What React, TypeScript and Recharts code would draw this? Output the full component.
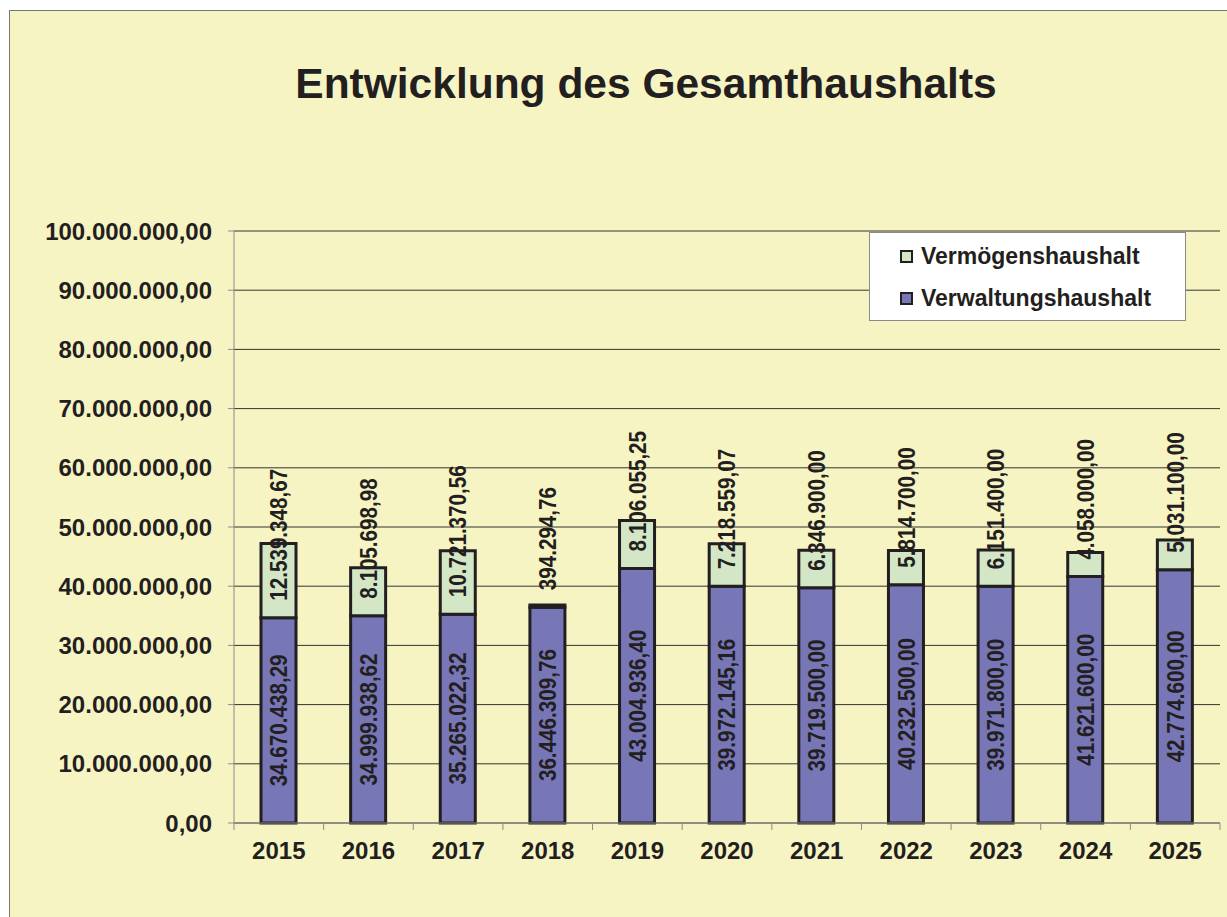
import { Bar, BarChart, CartesianGrid, LabelList, XAxis, YAxis } from 'recharts';

const years = ['2015', '2016', '2017', '2018', '2019', '2020', '2021', '2022', '2023', '2024', '2025'];
const verwaltung = [
  34670438.29, 34999938.62, 35265022.32, 36446309.76, 43004936.4, 39972145.16, 39719500.0, 40232500.0,
  39971800.0, 41621600.0, 42774600.0,
];
const vermoegen = [
  12539348.67, 8105698.98, 10721370.56, 394294.76, 8106055.25, 7218559.07, 6346900.0, 5814700.0, 6151400.0,
  4058000.0, 5031100.0,
];
const yTicks = [0, 10000000, 20000000, 30000000, 40000000, 50000000, 60000000, 70000000, 80000000, 90000000, 100000000];

const series = [
  { key: 'vermoegen', name: 'Vermögenshaushalt', color: '#D3E7C7' },
  { key: 'verwaltung', name: 'Verwaltungshaushalt', color: '#7777B8' },
];

const data = years.map((year, i) => ({ year, verwaltung: verwaltung[i], vermoegen: vermoegen[i] }));

const FONT = '"Liberation Sans", Arial, Helvetica, sans-serif';
const INK = '#231F20';
const AXIS = '#8A8A8A';
const BG = '#F7F4C4';
const BAND = 986 / years.length;

function fmt(v: number) {
  const [i, d] = v.toFixed(2).split('.');
  return i.replace(/\B(?=(\d{3})+(?!\d))/g, '.') + ',' + d;
}

function box(p: any) {
  const vb = p.viewBox && p.viewBox.width !== undefined ? p.viewBox : p;
  const x = Number(vb.x);
  const y = Number(vb.y);
  const w = Number(vb.width);
  const h = Number(vb.height);
  return { cx: x + w / 2, top: Math.min(y, y + h), bottom: Math.max(y, y + h) };
}

// vertical bar label, glyphs a bit narrower like the original
function VLabel({ cx, cy, anchor, value }: { cx: number; cy: number; anchor: string; value: number }) {
  return (
    <text
      x={0}
      y={0}
      dy="0.36em"
      transform={`translate(${cx}, ${cy}) rotate(-90) scale(0.86, 1)`}
      textAnchor={anchor}
      fontFamily={FONT}
      fontWeight="bold"
      fontSize={24}
      fill={INK}
    >
      {fmt(value)}
    </text>
  );
}

function CenterLabel(p: any) {
  const { cx, top, bottom } = box(p);
  return <VLabel cx={cx} cy={(top + bottom) / 2} anchor="middle" value={Number(p.value)} />;
}

function BaseLabel(p: any) {
  const { cx, bottom } = box(p);
  return <VLabel cx={cx} cy={bottom - 17} anchor="start" value={Number(p.value)} />;
}

function YearTick(p: any) {
  const { x, y, payload, index } = p;
  const axisY = y - 19;
  const last = index === years.length - 1;
  return (
    <g>
      <line x1={x - BAND / 2} x2={x - BAND / 2} y1={axisY} y2={axisY + 7} stroke={AXIS} />
      {last && <line x1={x + BAND / 2} x2={x + BAND / 2} y1={axisY} y2={axisY + 7} stroke={AXIS} />}
      <text x={x} y={y} dy="0.71em" textAnchor="middle" fontFamily={FONT} fontWeight="bold" fontSize={24} fill={INK}>
        {payload.value}
      </text>
    </g>
  );
}

function LegendBox() {
  return (
    <div
      style={{
        position: 'absolute',
        left: 869,
        top: 232,
        width: 317,
        height: 89,
        boxSizing: 'border-box',
        background: '#fff',
        border: '1px solid #8A8A8A',
        paddingTop: 5,
        fontFamily: FONT,
        fontWeight: 'bold',
        fontSize: 23,
        color: INK,
      }}
    >
      {series.map((s) => (
        <div key={s.key} style={{ display: 'flex', alignItems: 'center', height: 36, marginBottom: 6, paddingLeft: 30 }}>
          <span
            style={{
              display: 'inline-block',
              width: 9,
              height: 9,
              background: s.color,
              border: `2px solid ${INK}`,
              marginRight: 8,
            }}
          />
          {s.name}
        </div>
      ))}
    </div>
  );
}

export default function App() {
  return (
    <div style={{ position: 'absolute', left: 0, top: 0, width: 1227, height: 917, background: '#fff', overflow: 'hidden' }}>
      <div
        style={{
          position: 'absolute',
          left: 9,
          top: 10,
          width: 1240,
          height: 930,
          background: BG,
          border: '1px solid #777',
        }}
      />
      <div
        style={{
          position: 'absolute',
          left: 146,
          top: 60,
          width: 1000,
          textAlign: 'center',
          fontFamily: FONT,
          fontWeight: 'bold',
          fontSize: 42.5,
          lineHeight: 'normal',
          color: INK,
        }}
      >
        Entwicklung des Gesamthaushalts
      </div>
      <div style={{ position: 'absolute', left: 0, top: 0 }}>
        <BarChart width={1227} height={917} data={data} margin={{ top: 231, right: 7, bottom: 34, left: 8 }}>
          <CartesianGrid yAxisId="l" vertical={false} stroke="#333" />
          <XAxis
            dataKey="year"
            height={60}
            axisLine={{ stroke: AXIS }}
            tickLine={{ stroke: 'none' }}
            tickSize={8}
            tickMargin={11}
            tick={<YearTick />}
            interval={0}
          />
          <YAxis
            yAxisId="l"
            width={226}
            domain={[0, 100000000]}
            ticks={yTicks}
            interval={0}
            axisLine={{ stroke: AXIS }}
            tickLine={{ stroke: AXIS }}
            tickSize={6}
            tickMargin={16}
            tickFormatter={(v: number) => fmt(v)}
            tick={{ fontFamily: FONT, fontWeight: 'bold', fontSize: 24, fill: INK }}
          />
          <YAxis
            yAxisId="r"
            orientation="right"
            width={0}
            domain={[0, 100000000]}
            tick={false}
            tickLine={false}
            axisLine={{ stroke: AXIS }}
          />
          <Bar
            yAxisId="l"
            dataKey="verwaltung"
            name="Verwaltungshaushalt"
            stackId="a"
            fill={series[1].color}
            stroke={INK}
            strokeWidth={3}
            barSize={35}
            isAnimationActive={false}
          >
            <LabelList dataKey="verwaltung" content={<CenterLabel />} />
          </Bar>
          <Bar
            yAxisId="l"
            dataKey="vermoegen"
            name="Vermögenshaushalt"
            stackId="a"
            fill={series[0].color}
            stroke={INK}
            strokeWidth={3}
            barSize={35}
            isAnimationActive={false}
          >
            <LabelList dataKey="vermoegen" content={<BaseLabel />} />
          </Bar>
        </BarChart>
      </div>
      <LegendBox />
    </div>
  );
}
